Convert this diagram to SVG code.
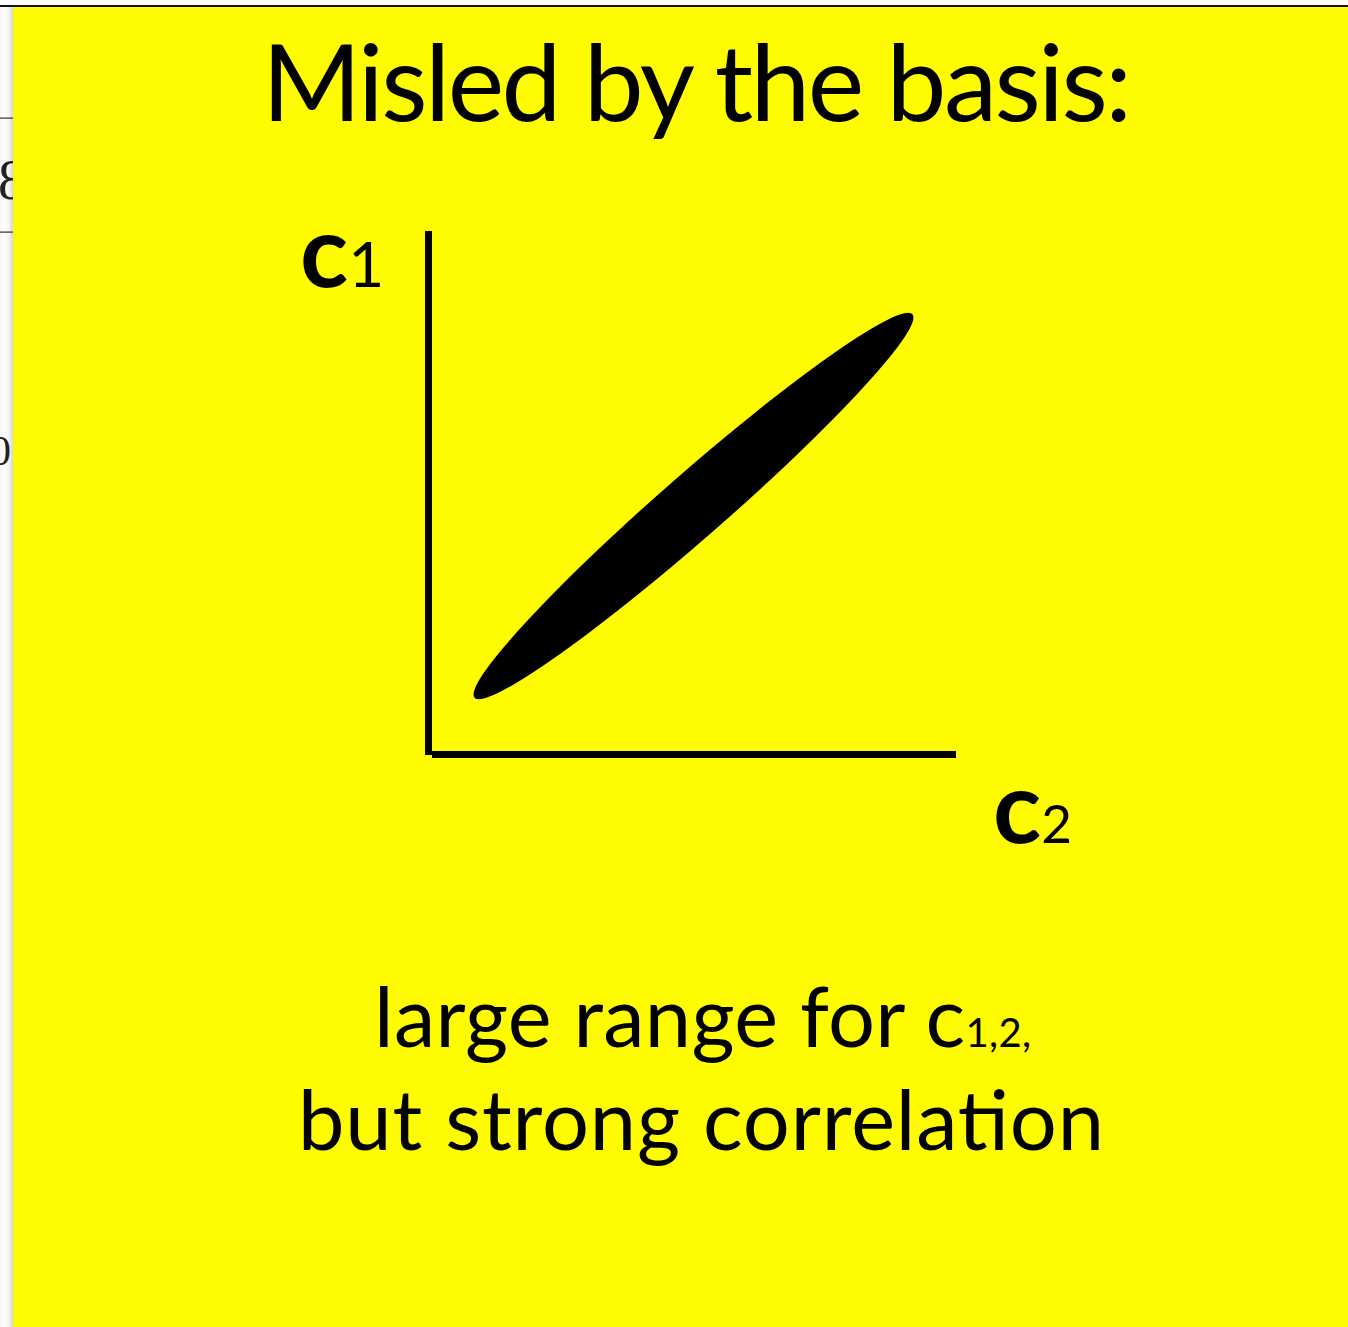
<svg xmlns="http://www.w3.org/2000/svg" width="1348" height="1327" viewBox="0 0 1348 1327">
  <defs>
    <linearGradient id="shade" x1="0" y1="0" x2="1" y2="0">
      <stop offset="0" stop-color="#f4f4f4"/>
      <stop offset="0.25" stop-color="#ffffff"/>
      <stop offset="0.6" stop-color="#f6f6f6"/>
      <stop offset="1" stop-color="#d0d0d0"/>
    </linearGradient>
  </defs>
  <style>
    .t { font-family: "Lato", "Open Sans", "Liberation Sans", sans-serif; fill: #000; }
    .bg { font-family: "Liberation Serif", serif; fill: #222; }
    .axis { fill: #000; }
  </style>
  <!-- page background -->
  <rect x="0" y="0" width="1348" height="1327" fill="#ffffff"/>
  <rect x="0" y="7" width="14" height="1320" fill="url(#shade)"/>
  <g id="page-behind">
    <rect x="0" y="117.5" width="14" height="1.2" fill="#333"/>
    <rect x="0" y="231.5" width="14" height="1.2" fill="#333"/>
    <text class="bg" x="-2" y="199" font-size="56">8</text>
    <text class="bg" x="-10" y="465" font-size="42">0</text>
  </g>
  <rect x="0" y="5" width="1348" height="2" fill="#111"/>
  <!-- slide -->
  <rect id="slide" x="13" y="7" width="1335" height="1320" fill="#FFFB00"/>

  <g id="title">
    <text class="t" x="697" y="121" font-size="107" text-anchor="middle" textLength="870">Misled by the basis:</text>
  </g>

  <g id="axes">
    <rect class="axis" x="425" y="231" width="7" height="524"/>
    <rect class="axis" x="432" y="751" width="524" height="7"/>
  </g>

  <g id="distribution">
    <ellipse cx="693.5" cy="506" rx="291" ry="32" transform="rotate(-41.2 693.5 506)" fill="#000"/>
  </g>

  <g id="label-c1">
    <text class="t" x="300" y="287" font-size="100" font-weight="700">c<tspan font-size="62" font-weight="400">1</tspan></text>
  </g>
  <g id="label-c2">
    <text class="t" x="993" y="843" font-size="100" font-weight="700">c<tspan font-size="53" font-weight="400">2</tspan></text>
  </g>

  <g id="caption">
    <text class="t" x="374" y="1047" font-size="83" textLength="657">large range for c<tspan font-size="40">1,2,</tspan></text>
    <text class="t" x="701" y="1150" font-size="83" text-anchor="middle" textLength="806">but strong correlation</text>
  </g>
</svg>
